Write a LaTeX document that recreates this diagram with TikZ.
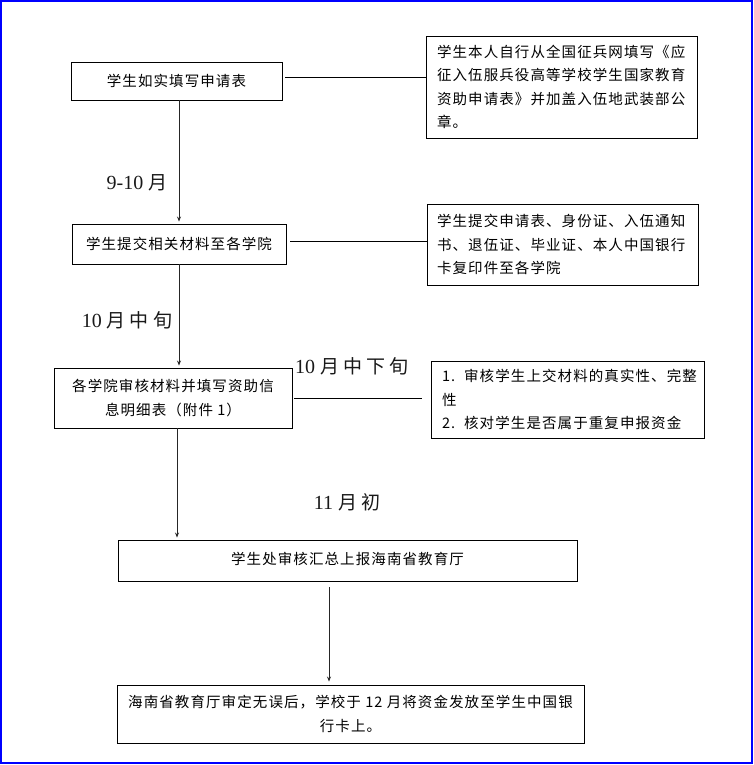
\documentclass[tikz,border=0pt]{standalone}
\usepackage{fontspec}
\setmainfont{Liberation Serif}
\newfontfamily\cjk[LetterSpace=7.5]{Noto Sans CJK SC}
\newfontfamily\lblcjk[LetterSpace=22]{Noto Sans CJK SC}
\usetikzlibrary{arrows.meta,calc}
\begin{document}
\begin{tikzpicture}[x=1pt,y=-1pt,
  box/.style={draw, line width=0.9pt, inner sep=0pt, align=center,
    font={\cjk\fontsize{14.5}{23.5}\selectfont}},
  lbox/.style={box, align=left},
  arr/.style={draw=black!85, line width=0.8pt, -{Stealth[length=5pt,width=4pt]}},
  conn/.style={draw, line width=0.9pt},
  lbl/.style={inner sep=0pt, text=black!90, font={\fontsize{20}{20}\selectfont}}
]
\useasboundingbox (0,0) rectangle (754,765);
\draw[blue, line width=2pt] (1,1) rectangle (752,763);

% main boxes
\node[box, minimum width=211pt, minimum height=38pt] (A) at (176.5,81) {学生如实填写申请表};
\node[box, minimum width=214pt, minimum height=40pt] (C) at (179,244) {学生提交相关材料至各学院};
\node[box, minimum width=238pt, minimum height=60pt] (E) at (173,398) {各学院审核材料并填写资助信\\息明细表（附件 1）};
\node[box, minimum width=459pt, minimum height=41pt] (G) at (347.5,560.5) {\raisebox{4pt}{学生处审核汇总上报海南省教育厅}};
\node[box, minimum width=467pt, minimum height=58pt] (H) at (350.5,714) {海南省教育厅审定无误后，学校于 12 月将资金发放至学生中国银\\行卡上。};

% side boxes
\node[lbox, text width=249pt, minimum width=271pt, minimum height=102pt] (B) at (561.5,87) {学生本人自行从全国征兵网填写《应\\征入伍服兵役高等学校学生国家教育\\资助申请表》并加盖入伍地武装部公\\章。};
\node[lbox, text width=251pt, minimum width=271pt, minimum height=81pt] (D) at (562.5,244.5) {学生提交申请表、身份证、入伍通知\\书、退伍证、毕业证、本人中国银行\\卡复印件至各学院};
\node[lbox, text width=251pt, minimum width=273pt, minimum height=77pt] (F) at (567.5,399.5) {\mbox{1.\hspace{9pt}审核学生上交材料的真实性、完整}\\性\\\mbox{2.\hspace{9pt}核对学生是否属于重复申报资金}};

% side connectors
\draw[conn] ([xshift=3pt,yshift=4pt]A.east) -- ([yshift=4pt]A.east -| B.west);
\draw[conn] ([xshift=4pt,yshift=3pt]C.east) -- ([yshift=3pt]C.east -| D.west);
\draw[conn] ([xshift=2pt]E.east) -- ([xshift=-9pt]E.east -| F.west);

% main arrows
\draw[arr] (A.south -| C.north) -- ([yshift=2pt]C.north);
\draw[arr] (C.south) -- ([yshift=2pt]C.south |- E.north);
\draw[arr] ([xshift=4pt]E.south) -- ([xshift=4pt,yshift=2pt]E.south |- G.north);
\draw[arr] ([xshift=-18.5pt,yshift=-6pt]G.south) -- ([xshift=-18.5pt,yshift=3pt]G.south |- H.north);

% labels
\node[lbl] (l1) at (137,183) {9-10 {\lblcjk\fontsize{19}{19}\selectfont 月}};
\node[lbl] (l2) at (127,320) {10 {\lblcjk\fontsize{19}{19}\selectfont 月中旬}};
\node[lbl] (l3) at (352,366) {10 {\lblcjk\fontsize{19}{19}\selectfont 月中下旬}};
\node[lbl] (l4) at (347,502) {11 {\lblcjk\fontsize{19}{19}\selectfont 月初}};
\end{tikzpicture}
\end{document}
